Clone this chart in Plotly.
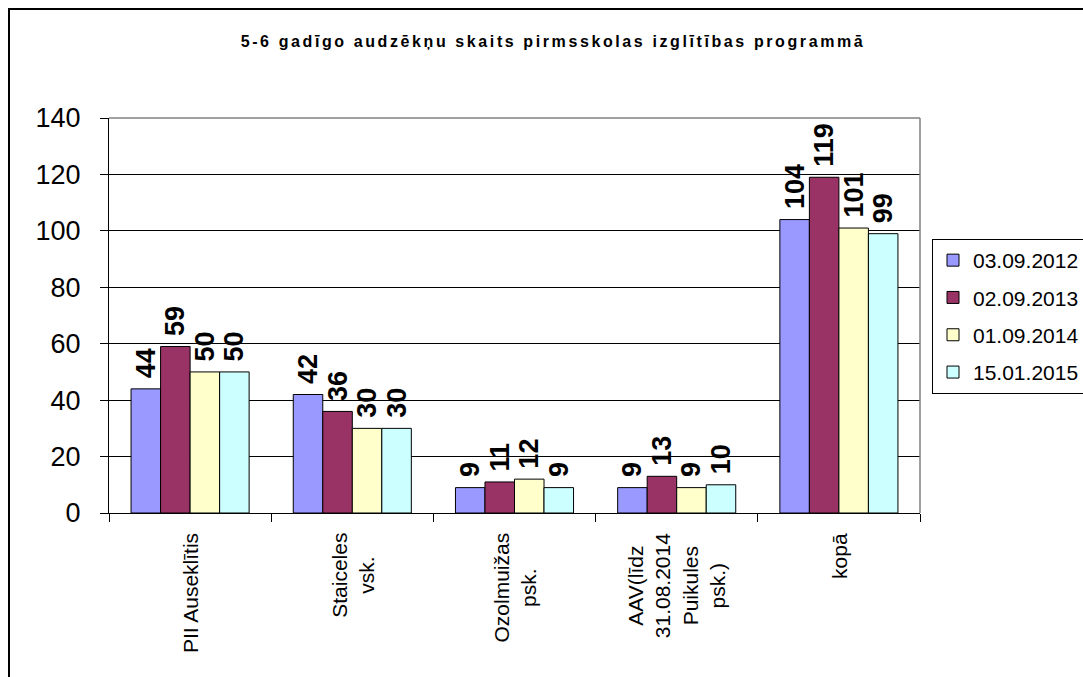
import plotly.graph_objects as go

categories = ["PII Auseklītis", "Staiceles vsk.", "Ozolmuižas psk.", "AAV(līdz 31.08.2014 Puikules psk.)", "kopā"]
category_labels = ["PII Auseklītis", "Staiceles<br>vsk.", "Ozolmuižas<br>psk.", "AAV(līdz<br>31.08.2014<br>Puikules<br>psk.)", "kopā"]
series_names = ["03.09.2012", "02.09.2013", "01.09.2014", "15.01.2015"]
values_2012 = [44, 42, 9, 9, 104]
values_2013 = [59, 36, 11, 13, 119]
values_2014 = [50, 30, 12, 9, 101]
values_2015 = [50, 30, 9, 10, 99]
series_values = [values_2012, values_2013, values_2014, values_2015]
colors = ["#9999FF", "#993366", "#FFFFCC", "#CCFFFF"]
y_ticks = [0, 20, 40, 60, 80, 100, 120, 140]
title_text = "5-6 gadīgo audzēkņu skaits pirmsskolas izglītības programmā"

FONT = "Arial, 'Liberation Sans', sans-serif"
W, H = 1083, 677
L, R, T, B = 109, 920, 118, 513

fig = go.Figure()
for name, vals, col in zip(series_names, series_values, colors):
    fig.add_trace(go.Bar(
        x=categories, y=vals, name=name, legendgroup=name,
        marker=dict(color=col, line=dict(color="black", width=1)),
        text=["\u00a0" + str(v) for v in vals], textposition="outside", textangle=-90,
        textfont=dict(family=FONT, size=27, color="black", weight="bold"),
        constraintext="none", cliponaxis=False, hoverinfo="skip",
    ))

def px_to_px(x):
    return (x - L) / (R - L)

def py_to_py(y):
    return (B - y) / (B - T)

annotations = []
for cat, lab in zip(categories, category_labels):
    annotations.append(dict(
        x=cat, xref="x", y=py_to_py(531), yref="paper",
        text=lab, textangle=-90, showarrow=False,
        xanchor="center", yanchor="top", align="center",
        font=dict(family=FONT, size=21, color="black"),
    ))

shapes = [
    # outer chart frame
    dict(type="rect", xref="paper", yref="paper",
         x0=px_to_px(9), x1=px_to_px(1200), y0=py_to_py(9), y1=py_to_py(800),
         line=dict(color="black", width=2), layer="above"),
    # plot area top and right border (gray)
    dict(type="line", xref="paper", yref="paper", x0=0, x1=1, y0=1, y1=1,
         line=dict(color="#808080", width=1.5), layer="above"),
    dict(type="line", xref="paper", yref="paper", x0=1, x1=1, y0=0, y1=1,
         line=dict(color="#808080", width=1.5), layer="above"),
]

fig.update_layout(
    width=W, height=H,
    margin=dict(l=L, r=W - R, t=T, b=H - B, pad=0),
    paper_bgcolor="white", plot_bgcolor="white",
    barmode="group", bargap=0.272, bargroupgap=0,
    title=dict(text=title_text, x=553 / W, xanchor="center", xref="container",
               y=1 - 41 / H, yanchor="middle", yref="container",
               font=dict(family=FONT, size=16, color="black", weight="bold")),
    legend=dict(x=932 / W, xref="container", xanchor="left",
                y=1 - 239 / H, yref="container", yanchor="top",
                bordercolor="black", borderwidth=1, bgcolor="white",
                font=dict(family=FONT, size=21, color="black"),
                traceorder="grouped", tracegroupgap=7),
    annotations=annotations,
    shapes=shapes,
    showlegend=True,
)

fig.update_xaxes(
    type="category", showline=True, linecolor="black", linewidth=1,
    ticks="outside", tickson="boundaries", ticklen=8, tickcolor="black",
    showticklabels=False, showgrid=False, fixedrange=True,
)
fig.update_yaxes(
    range=[0, 140], tickvals=y_ticks, showline=True, linecolor="black", linewidth=1,
    ticks="outside", ticklen=8, tickcolor="black", ticklabelstandoff=14,
    tickfont=dict(family=FONT, size=27, color="black"),
    showgrid=True, gridcolor="black", gridwidth=1, zeroline=False, fixedrange=True,
)

post = (
    "document.body.style.margin='0';"
    "document.body.style.overflow='hidden';"
    "var t=document.querySelector('.gtitle');"
    "if(t){t.style.letterSpacing='2.6px';}"
)
fig.write_html("out.html", post_script=post, config={"displayModeBar": False})
